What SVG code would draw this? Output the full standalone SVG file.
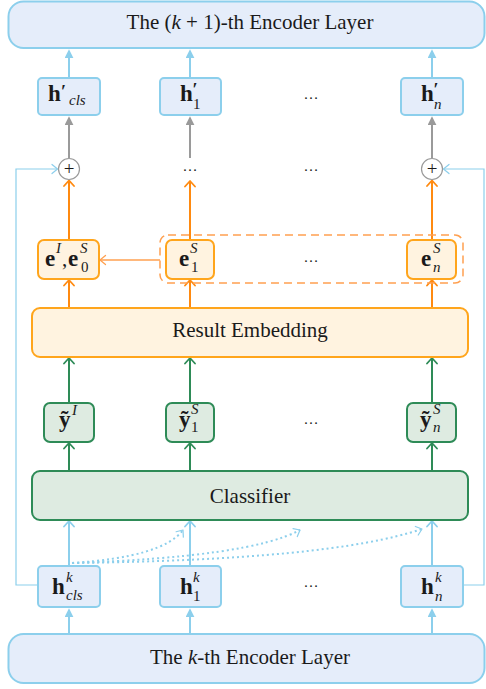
<svg xmlns="http://www.w3.org/2000/svg" width="486" height="689" viewBox="0 0 486 689">
  <style>
    .txt { font-family: "Liberation Serif", "Times New Roman", serif; fill: #1a1a1a; }
    .big { font-size: 21px; }
    .mb { font-size: 23px; font-weight: bold; }
    .pr { font-size: 18px; font-weight: bold; }
    .sc { font-size: 15px; font-style: italic; font-weight: normal; }
    .sn { font-size: 15px; font-style: normal; font-weight: normal; }
    .dots { font-size: 15px; text-anchor: middle; }
    .layer { fill: #e5edfa; stroke: #8ccfec; stroke-width: 2; }
    .hbox { fill: #e5edfa; stroke: #8ccfec; stroke-width: 2; }
    .ebox { fill: #fff3e0; stroke: #ffa51c; stroke-width: 2; }
    .gbox { fill: #deebe1; stroke: #2e8b57; stroke-width: 2; }
    .blue { stroke: #8ccfec; stroke-width: 2; fill: none; }
    .bluethin { stroke: #8ccfec; stroke-width: 1.2; fill: none; }
    .gray { stroke: #9a9a9a; stroke-width: 2; fill: none; }
    .orange { stroke: #ff8a10; stroke-width: 2; fill: none; }
    .orthin { stroke: #ffa050; stroke-width: 1.3; fill: none; }
    .green { stroke: #2e8b57; stroke-width: 2; fill: none; }
    .dotted { stroke: #8ccfec; stroke-width: 2; fill: none; stroke-dasharray: 2 3; }
  </style>
  <defs>
    <marker id="triBlue" viewBox="0 0 10 10" refX="8" refY="5" markerWidth="9" markerHeight="9" markerUnits="userSpaceOnUse" orient="auto">
      <path d="M0,0 L10,5 L0,10 z" fill="#8ccfec"/>
    </marker>
    <marker id="triGray" viewBox="0 0 10 10" refX="8" refY="5" markerWidth="9" markerHeight="9" markerUnits="userSpaceOnUse" orient="auto">
      <path d="M0,0 L10,5 L0,10 z" fill="#9a9a9a"/>
    </marker>
    <marker id="chevOrange" viewBox="-7 -6 8 12" refX="0" refY="0" markerWidth="8" markerHeight="12" markerUnits="userSpaceOnUse" orient="auto">
      <path d="M-5.5,-5 L0,0 L-5.5,5" fill="none" stroke="#ff8a10" stroke-width="1.8" stroke-linejoin="round" stroke-linecap="round"/>
    </marker>
    <marker id="chevOrThin" viewBox="-7 -6 8 12" refX="0" refY="0" markerWidth="8" markerHeight="12" markerUnits="userSpaceOnUse" orient="auto">
      <path d="M-5.5,-4.5 L0,0 L-5.5,4.5" fill="none" stroke="#ffa050" stroke-width="1.3" stroke-linejoin="round" stroke-linecap="round"/>
    </marker>
    <marker id="chevGreen" viewBox="-7 -6 8 12" refX="0" refY="0" markerWidth="8" markerHeight="12" markerUnits="userSpaceOnUse" orient="auto">
      <path d="M-5.5,-5 L0,0 L-5.5,5" fill="none" stroke="#2e8b57" stroke-width="1.8" stroke-linejoin="round" stroke-linecap="round"/>
    </marker>
    <marker id="chevBlue" viewBox="-7 -6 8 12" refX="0" refY="0" markerWidth="8" markerHeight="12" markerUnits="userSpaceOnUse" orient="auto">
      <path d="M-5.5,-5 L0,0 L-5.5,5" fill="none" stroke="#8ccfec" stroke-width="1.8" stroke-linejoin="round" stroke-linecap="round"/>
    </marker>
    <marker id="chevBlueThin" viewBox="-7 -6 8 12" refX="0" refY="0" markerWidth="8" markerHeight="12" markerUnits="userSpaceOnUse" orient="auto">
      <path d="M-5.5,-4.5 L0,0 L-5.5,4.5" fill="none" stroke="#8ccfec" stroke-width="1.2" stroke-linejoin="round" stroke-linecap="round"/>
    </marker>
  </defs>

  <!-- connectors -->
  <g id="connectors">
    <!-- h' to upper encoder layer -->
    <line class="blue" x1="69" y1="78" x2="69" y2="51" marker-end="url(#triBlue)"/>
    <line class="blue" x1="190" y1="78" x2="190" y2="51" marker-end="url(#triBlue)"/>
    <line class="blue" x1="432" y1="78" x2="432" y2="51" marker-end="url(#triBlue)"/>
    <!-- sum to h' -->
    <line class="gray" x1="69" y1="158.5" x2="69" y2="118" marker-end="url(#triGray)"/>
    <line class="gray" x1="190" y1="158" x2="190" y2="118" marker-end="url(#triGray)"/>
    <line class="gray" x1="432" y1="158.5" x2="432" y2="118" marker-end="url(#triGray)"/>
    <!-- residual paths -->
    <polyline class="bluethin" points="38,585 16,585 16,169 57.5,169" marker-end="url(#chevBlueThin)"/>
    <polyline class="bluethin" points="463,585 484,585 484,169 443.5,169" marker-end="url(#chevBlueThin)"/>
    <!-- embeddings to sum -->
    <line class="orange" x1="69" y1="240" x2="69" y2="180.5" marker-end="url(#chevOrange)"/>
    <line class="orange" x1="190" y1="240" x2="190" y2="181" marker-end="url(#chevOrange)"/>
    <line class="orange" x1="432" y1="240" x2="432" y2="180.5" marker-end="url(#chevOrange)"/>
    <!-- result embedding to embeddings -->
    <line class="orange" x1="69" y1="308" x2="69" y2="280" marker-end="url(#chevOrange)"/>
    <line class="orange" x1="190" y1="308" x2="190" y2="280" marker-end="url(#chevOrange)"/>
    <line class="orange" x1="432" y1="308" x2="432" y2="280" marker-end="url(#chevOrange)"/>
    <!-- pooled slot embeddings -->
    <line class="orthin" x1="160" y1="260" x2="100" y2="260" marker-end="url(#chevOrThin)"/>
    <!-- predictions to result embedding -->
    <line class="green" x1="69" y1="403" x2="69" y2="358" marker-end="url(#chevGreen)"/>
    <line class="green" x1="190" y1="403" x2="190" y2="358" marker-end="url(#chevGreen)"/>
    <line class="green" x1="432" y1="403" x2="432" y2="358" marker-end="url(#chevGreen)"/>
    <!-- classifier to predictions -->
    <line class="green" x1="69" y1="471" x2="69" y2="443" marker-end="url(#chevGreen)"/>
    <line class="green" x1="190" y1="471" x2="190" y2="443" marker-end="url(#chevGreen)"/>
    <line class="green" x1="432" y1="471" x2="432" y2="443" marker-end="url(#chevGreen)"/>
    <!-- hidden states to classifier -->
    <line class="blue" x1="69" y1="566" x2="69" y2="521" marker-end="url(#chevBlue)"/>
    <line class="blue" x1="190" y1="566" x2="190" y2="521" marker-end="url(#chevBlue)"/>
    <line class="blue" x1="432" y1="566" x2="432" y2="521" marker-end="url(#chevBlue)"/>
    <!-- cls attention to tokens -->
    <path class="dotted" d="M72,563 Q163,557 183,530" marker-end="url(#chevBlueThin)"/>
    <path class="dotted" d="M72,563 Q250,557 300,530" marker-end="url(#chevBlueThin)"/>
    <path class="dotted" d="M72,563 Q330,560 422,529" marker-end="url(#chevBlueThin)"/>
    <!-- lower encoder layer to hidden states -->
    <line class="blue" x1="69" y1="634" x2="69" y2="610" marker-end="url(#triBlue)"/>
    <line class="blue" x1="190" y1="634" x2="190" y2="610" marker-end="url(#triBlue)"/>
    <line class="blue" x1="432" y1="634" x2="432" y2="610" marker-end="url(#triBlue)"/>
  </g>

  <!-- upper encoder layer -->
  <g id="layer-k1">
    <rect class="layer" x="8.5" y="1.5" width="476" height="46.5" rx="15"/>
    <text class="txt big" x="250" y="29" text-anchor="middle">The (<tspan font-style="italic">k</tspan> + 1)-th Encoder Layer</text>
  </g>

  <!-- updated hidden states -->
  <g id="hp-cls">
    <rect class="hbox" x="38" y="78" width="62" height="37" rx="4"/>
    <text class="txt"><tspan class="mb" x="48" y="101">h</tspan><tspan class="pr" x="61" y="98">′</tspan><tspan class="sc" x="69" y="105">cls</tspan></text>
  </g>
  <g id="hp-1">
    <rect class="hbox" x="160" y="78" width="61" height="37" rx="4"/>
    <text class="txt"><tspan class="mb" x="180" y="101">h</tspan><tspan class="pr" x="192.5" y="96">′</tspan><tspan class="sn" x="193" y="109">1</tspan></text>
  </g>
  <text class="txt dots" x="311" y="99">…</text>
  <g id="hp-n">
    <rect class="hbox" x="401" y="78" width="62" height="37" rx="4"/>
    <text class="txt"><tspan class="mb" x="421" y="101">h</tspan><tspan class="pr" x="433.5" y="96">′</tspan><tspan class="sc" x="434" y="109">n</tspan></text>
  </g>

  <!-- residual sums -->
  <g id="sum-cls">
    <circle cx="69" cy="169" r="10.5" fill="#fff" stroke="#9a9a9a" stroke-width="1.2"/>
    <text class="txt" x="69" y="175" font-size="19" text-anchor="middle">+</text>
  </g>
  <text class="txt dots" x="190" y="171">…</text>
  <text class="txt dots" x="311" y="171">…</text>
  <g id="sum-n">
    <circle cx="432" cy="169" r="10.5" fill="#fff" stroke="#9a9a9a" stroke-width="1.2"/>
    <text class="txt" x="432" y="175" font-size="19" text-anchor="middle">+</text>
  </g>

  <!-- result embeddings -->
  <g id="slot-group">
    <rect x="160" y="235" width="303" height="48" rx="8" fill="none" stroke="#ffa050" stroke-width="1.5" stroke-dasharray="8 5"/>
  </g>
  <g id="e-intent">
    <rect class="ebox" x="38" y="240" width="61" height="39" rx="6"/>
    <text class="txt"><tspan class="mb" x="45" y="266">e</tspan><tspan class="sc" x="56" y="253">I</tspan><tspan class="big" x="62" y="266">,</tspan><tspan class="mb" x="68" y="266">e</tspan><tspan class="sc" x="80" y="253">S</tspan><tspan class="sn" x="81" y="272">0</tspan></text>
  </g>
  <g id="e-1">
    <rect class="ebox" x="166" y="240" width="48" height="39" rx="6"/>
    <text class="txt"><tspan class="mb" x="179" y="266">e</tspan><tspan class="sc" x="190" y="253">S</tspan><tspan class="sn" x="191" y="272">1</tspan></text>
  </g>
  <text class="txt dots" x="311" y="262">…</text>
  <g id="e-n">
    <rect class="ebox" x="407" y="240" width="49" height="39" rx="6"/>
    <text class="txt"><tspan class="mb" x="421" y="266">e</tspan><tspan class="sc" x="433" y="253">S</tspan><tspan class="sc" x="433" y="272">n</tspan></text>
  </g>

  <g id="result-embedding">
    <rect class="ebox" x="32" y="308" width="436" height="49" rx="8"/>
    <text class="txt big" x="250" y="337" text-anchor="middle">Result Embedding</text>
  </g>

  <!-- predictions -->
  <g id="y-intent">
    <rect class="gbox" x="44" y="403" width="50" height="39" rx="6"/>
    <text class="txt"><tspan class="mb" x="59" y="427">ỹ</tspan><tspan class="sc" x="72" y="415">I</tspan></text>
  </g>
  <g id="y-1">
    <rect class="gbox" x="166" y="403" width="48" height="39" rx="6"/>
    <text class="txt"><tspan class="mb" x="179" y="427">ỹ</tspan><tspan class="sc" x="191" y="414">S</tspan><tspan class="sn" x="191" y="432">1</tspan></text>
  </g>
  <text class="txt dots" x="311" y="424">…</text>
  <g id="y-n">
    <rect class="gbox" x="407" y="403" width="49" height="39" rx="6"/>
    <text class="txt"><tspan class="mb" x="420" y="427">ỹ</tspan><tspan class="sc" x="433" y="414">S</tspan><tspan class="sc" x="433" y="432">n</tspan></text>
  </g>

  <g id="classifier">
    <rect class="gbox" x="32" y="471" width="436" height="49" rx="8"/>
    <text class="txt big" x="250" y="503" text-anchor="middle">Classifier</text>
  </g>

  <!-- hidden states of layer k -->
  <g id="hk-cls">
    <rect class="hbox" x="38" y="566" width="62" height="41" rx="4"/>
    <text class="txt"><tspan class="mb" x="52" y="594">h</tspan><tspan class="sc" x="66" y="582">k</tspan><tspan class="sc" x="66" y="600">cls</tspan></text>
  </g>
  <g id="hk-1">
    <rect class="hbox" x="160" y="566" width="61" height="41" rx="4"/>
    <text class="txt"><tspan class="mb" x="180" y="594">h</tspan><tspan class="sc" x="193" y="582">k</tspan><tspan class="sn" x="193" y="601">1</tspan></text>
  </g>
  <text class="txt dots" x="311" y="587">…</text>
  <g id="hk-n">
    <rect class="hbox" x="401" y="566" width="62" height="41" rx="4"/>
    <text class="txt"><tspan class="mb" x="421" y="594">h</tspan><tspan class="sc" x="435" y="582">k</tspan><tspan class="sc" x="435" y="601">n</tspan></text>
  </g>

  <!-- lower encoder layer -->
  <g id="layer-k">
    <rect class="layer" x="8.5" y="634" width="476" height="49" rx="15"/>
    <text class="txt big" x="250" y="664" text-anchor="middle">The <tspan font-style="italic">k</tspan>-th Encoder Layer</text>
  </g>
</svg>
